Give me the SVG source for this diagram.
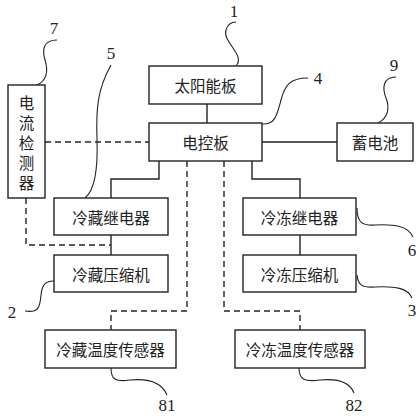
<svg xmlns="http://www.w3.org/2000/svg" width="416" height="416" viewBox="0 0 416 416">
<style>
.box{fill:#fff;stroke:#222;stroke-width:1.4}
.t{font-family:"Noto Sans CJK SC","Noto Sans",sans-serif;font-size:15.5px;fill:#222;text-anchor:middle;dominant-baseline:central}
.n{font-family:"Liberation Serif",serif;font-size:17px;fill:#222;text-anchor:middle}
.s{fill:none;stroke:#222;stroke-width:1.4}
.d{fill:none;stroke:#222;stroke-width:1.4;stroke-dasharray:6,4}
.l{fill:none;stroke:#222;stroke-width:1.1}
</style>
<rect width="416" height="416" fill="#fff"/>
<g id="connectors">
<path class="s" d="M207,104V123"/>
<path class="d" d="M45,142H149"/>
<path class="s" d="M262,142H337"/>
<path class="s" d="M159,161V179H111V198"/>
<path class="s" d="M252,161V179H300V198"/>
<path class="s" d="M111,235V255"/>
<path class="s" d="M300,235V255"/>
<path class="d" d="M26,198V245H111"/>
<path class="d" d="M187,161V311H111V330"/>
<path class="d" d="M224,161V311H300V330"/>
</g>
<g id="leaders">
<path class="l" d="M236,66 C246,55 222,42 226,30 C228,23 232,22 236,22"/>
<path class="l" d="M262,124 C275,125 277,115 281,100 C285,85 290,78 308,78"/>
<path class="l" d="M378,123 C388,118 390,108 386,98 C382,88 383,77 396,77"/>
<path class="l" d="M37,85 C48,80 48,70 45,60 C42,50 43,40 57,40"/>
<path class="l" d="M85,198 C95,190 98,170 97,140 C96,110 97,90 111,65"/>
<path class="l" d="M111,368 C111,380 116,382 130,380 C150,378 162,383 167,395"/>
<path class="l" d="M299,368 C299,380 305,382 320,380 C340,378 350,383 354,393"/>
<path class="l" d="M357,208 C357,222 362,226 375,225 C395,224 408,226 413,237"/>
<path class="l" d="M357,275 C358,285 362,288 375,287 C395,286 408,288 412,298"/>
<path class="l" d="M54,281 C46,281 42,284 41,295 C40,308 38,313 25,311"/>
</g>
<g id="solar"><rect class="box" x="149" y="66" width="113" height="38"/><text class="t" x="205.5" y="85">太阳能板</text></g>
<g id="controller"><rect class="box" x="149" y="123" width="113" height="38"/><text class="t" x="205.5" y="142">电控板</text></g>
<g id="battery"><rect class="box" x="337" y="123" width="76" height="38"/><text class="t" x="375" y="142">蓄电池</text></g>
<g id="current-detector"><rect class="box" x="8" y="85" width="37" height="113"/>
<text class="t" x="26.5" y="102">电</text><text class="t" x="26.5" y="122">流</text><text class="t" x="26.5" y="142">检</text><text class="t" x="26.5" y="162">测</text><text class="t" x="26.5" y="182">器</text></g>
<g id="fridge-relay"><rect class="box" x="54" y="198" width="114" height="37"/><text class="t" x="111" y="216.5">冷藏继电器</text></g>
<g id="freezer-relay"><rect class="box" x="243" y="198" width="113" height="37"/><text class="t" x="299.5" y="216.5">冷冻继电器</text></g>
<g id="fridge-compressor"><rect class="box" x="54" y="255" width="114" height="37"/><text class="t" x="111" y="273.5">冷藏压缩机</text></g>
<g id="freezer-compressor"><rect class="box" x="243" y="255" width="113" height="37"/><text class="t" x="299.5" y="273.5">冷冻压缩机</text></g>
<g id="fridge-sensor"><rect class="box" x="45" y="330" width="131" height="38"/><text class="t" x="110.5" y="349">冷藏温度传感器</text></g>
<g id="freezer-sensor"><rect class="box" x="235" y="330" width="130" height="38"/><text class="t" x="300" y="349">冷冻温度传感器</text></g>
<g id="labels">
<text class="n" x="234" y="17">1</text>
<text class="n" x="54" y="34">7</text>
<text class="n" x="111" y="59">5</text>
<text class="n" x="318" y="84">4</text>
<text class="n" x="394" y="71">9</text>
<text class="n" x="412" y="256">6</text>
<text class="n" x="412" y="316">3</text>
<text class="n" x="12" y="318">2</text>
<text class="n" x="167" y="411">81</text>
<text class="n" x="354" y="411">82</text>
</g>
</svg>
